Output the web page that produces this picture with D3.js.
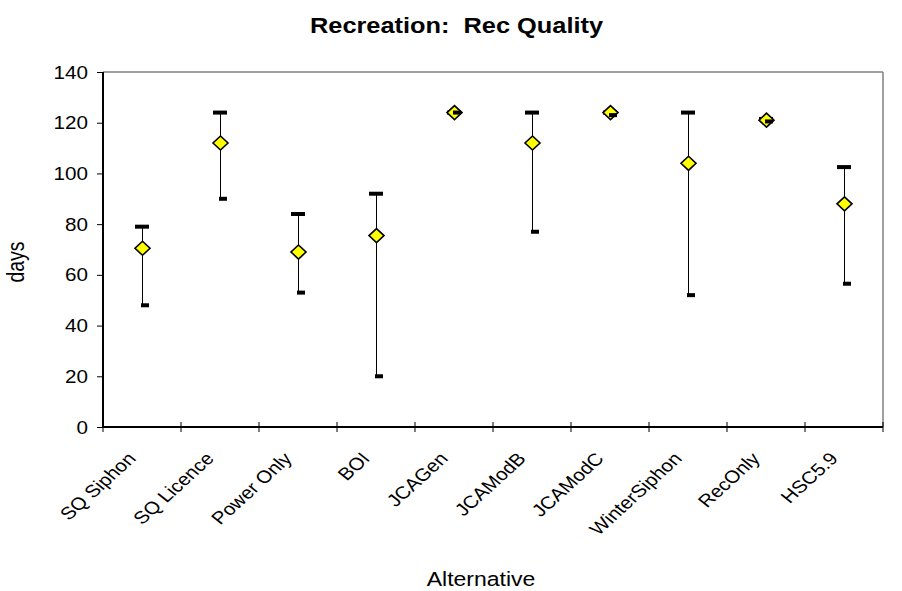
<!DOCTYPE html>
<html>
<head>
<meta charset="utf-8">
<script src="https://cdn.jsdelivr.net/npm/d3@7"></script>
<style>
  html, body { margin: 0; padding: 0; background: #fff; }
  svg { display: block; font-family: "Liberation Sans", Arial, sans-serif; }
  text { white-space: pre; }
</style>
</head>
<body>
<svg id="chart" width="902" height="591"></svg>
<script>
const categories = ["SQ Siphon", "SQ Licence", "Power Only", "BOI", "JCAGen", "JCAModB", "JCAModC", "WinterSiphon", "RecOnly", "HSC5.9"];
const highValues = [79, 124, 84, 92, 124, 124, 124, 124, 121.5, 102.5];
const lowValues  = [48, 90, 53, 20, 124, 77, 123, 52, 120.5, 56.5];
const meanValues = [70.5, 112, 69, 75.5, 124, 112, 124, 104, 121, 88];
const yTicks = [0, 20, 40, 60, 80, 100, 120, 140];
const titleText = "Recreation:  Rec Quality";
const xTitle = "Alternative";
const yTitle = "days";

(function () {
const SX = 1.18; // horizontal stretch of the reference text
const pLeft = 103, pRight = 883, pTop = 72, pBottom = 427;

const svg = d3.select("#chart");
svg.append("rect").attr("width", 902).attr("height", 591).attr("fill", "#fff");

const x = d3.scaleBand().domain(categories).range([pLeft, pRight]).paddingInner(0).paddingOuter(0);
const y = d3.scaleLinear().domain([0, 140]).range([pBottom, pTop]);

// frame (top and right gray)
svg.append("line").attr("x1", pLeft).attr("x2", pRight).attr("y1", pTop).attr("y2", pTop)
  .attr("stroke", "#808080").attr("stroke-width", 1.5);
svg.append("line").attr("x1", pRight).attr("x2", pRight).attr("y1", pTop).attr("y2", pBottom)
  .attr("stroke", "#808080").attr("stroke-width", 1.5);

// y axis
const yAxis = d3.axisLeft(y).tickValues(yTicks).tickSize(6).tickFormat(d3.format("d"));
const gy = svg.append("g").attr("transform", `translate(${pLeft},0)`).call(yAxis);
gy.select(".domain").remove();
gy.selectAll(".tick line").attr("stroke", "#000").attr("stroke-width", 1);
gy.selectAll(".tick text").remove();
gy.selectAll(".tick").append("text")
  .attr("transform", `translate(-15,6) scale(${SX},1)`)
  .attr("text-anchor", "end")
  .attr("fill", "#000")
  .style("font-size", "17.5px")
  .style("font-family", "'Liberation Sans', Arial, sans-serif")
  .text(d => d);
svg.append("line").attr("x1", pLeft).attr("x2", pLeft).attr("y1", pTop).attr("y2", pBottom + 1)
  .attr("stroke", "#000").attr("stroke-width", 2);

// x axis: ticks at band boundaries crossing the axis
const boundaries = categories.map(c => x(c)).concat([x.range()[1]]);
svg.append("g").selectAll("line.xt").data(boundaries).enter().append("line")
  .attr("class", "xt")
  .attr("x1", d => d).attr("x2", d => d)
  .attr("y1", pBottom - 5).attr("y2", pBottom + 5)
  .attr("stroke", "#000").attr("stroke-width", 1);
svg.append("line").attr("x1", pLeft - 1).attr("x2", pRight).attr("y1", pBottom).attr("y2", pBottom)
  .attr("stroke", "#000").attr("stroke-width", 2);

// category labels
svg.append("g").selectAll("text").data(categories).enter().append("text")
  .attr("transform", d => `translate(${x(d) + x.bandwidth() / 2 - 5},459.5) scale(${SX},1) rotate(-47)`)
  .attr("text-anchor", "end")
  .attr("fill", "#000")
  .style("font-size", "17.5px")
  .text(d => d);

// data marks
const data = categories.map((c, i) => ({ c, hi: highValues[i], lo: lowValues[i], m: meanValues[i] }));
const cx = d => x(d.c) + x.bandwidth() / 2;
const marks = svg.append("g");

marks.selectAll("line.hl").data(data).enter().append("line")
  .attr("class", "hl")
  .attr("x1", d => cx(d) + 0.5).attr("x2", d => cx(d) + 0.5)
  .attr("y1", d => y(d.hi)).attr("y2", d => y(d.lo))
  .attr("stroke", "#000").attr("stroke-width", 1);

marks.selectAll("rect.hi").data(data).enter().append("rect")
  .attr("class", "hi")
  .attr("x", d => cx(d) - 7).attr("width", 14)
  .attr("y", d => y(d.hi) - 2).attr("height", 4)
  .attr("fill", "#000");

marks.selectAll("path.mean").data(data).enter().append("path")
  .attr("class", "mean")
  .attr("d", d => {
    const px = cx(d) + 0.5, py = y(d.m);
    return `M${px},${py - 7}L${px + 7.5},${py}L${px},${py + 7}L${px - 7.5},${py}Z`;
  })
  .attr("fill", "#ffff00").attr("stroke", "#000").attr("stroke-width", 1.6);

marks.selectAll("rect.lo").data(data).enter().append("rect")
  .attr("class", "lo")
  .attr("x", d => cx(d) - 1).attr("width", 8)
  .attr("y", d => y(d.lo) - 2).attr("height", 4)
  .attr("fill", "#000");

// titles
svg.append("text")
  .attr("transform", `translate(456.5,33) scale(${SX},1)`)
  .attr("text-anchor", "middle")
  .attr("xml:space", "preserve")
  .style("font-size", "21.5px").style("font-weight", "bold")
  .attr("fill", "#000")
  .text(titleText);

svg.append("text")
  .attr("transform", `translate(481,586) scale(${SX},1)`)
  .attr("text-anchor", "middle")
  .style("font-size", "19.5px")
  .attr("fill", "#000")
  .text(xTitle);

svg.append("text")
  .attr("transform", `translate(24,262) scale(${SX},1) rotate(-90)`)
  .attr("text-anchor", "middle")
  .style("font-size", "19.5px")
  .attr("fill", "#000")
  .text(yTitle);
})();
</script>
</body>
</html>
